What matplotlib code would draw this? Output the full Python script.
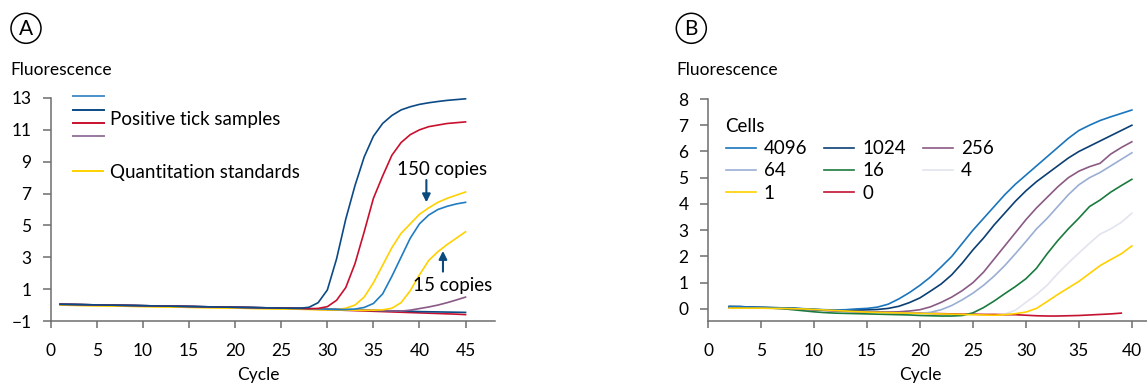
import numpy as np
import matplotlib.pyplot as plt
from matplotlib.lines import Line2D
from matplotlib.patches import Ellipse

plt.rcParams['font.family'] = ['Lato', 'DejaVu Sans']
plt.rcParams['font.size'] = 12.5

# ---- panel A: tick samples + quantitation standards (cycles 1..45)
cycles_a = np.arange(1, 46)

pos_navy = [0.05, 0.04, 0.03, 0.02, 0.01, 0.0, -0.01, -0.02, -0.03, -0.04,
            -0.05, -0.06, -0.07, -0.08, -0.09, -0.10, -0.11, -0.12, -0.13, -0.14,
            -0.15, -0.16, -0.17, -0.18, -0.19, -0.20, -0.20, -0.14, 0.15, 0.95,
            2.90, 5.40, 7.50, 9.30, 10.60, 11.40, 11.90, 12.25, 12.45, 12.60,
            12.70, 12.78, 12.85, 12.90, 12.95]
pos_red = [0.05, 0.04, 0.03, 0.02, 0.01, 0.0, -0.01, -0.02, -0.03, -0.04,
           -0.05, -0.06, -0.07, -0.08, -0.09, -0.10, -0.11, -0.12, -0.13, -0.14,
           -0.15, -0.16, -0.17, -0.18, -0.19, -0.20, -0.21, -0.23, -0.21, -0.10,
           0.30, 1.10, 2.60, 4.60, 6.70, 8.10, 9.40, 10.20, 10.70, 11.00,
           11.20, 11.30, 11.40, 11.45, 11.50]
pos_blue = [0.05, 0.04, 0.03, 0.02, 0.01, 0.0, -0.01, -0.02, -0.03, -0.04,
            -0.05, -0.06, -0.07, -0.08, -0.09, -0.10, -0.11, -0.12, -0.13, -0.14,
            -0.15, -0.16, -0.17, -0.18, -0.19, -0.20, -0.21, -0.23, -0.24, -0.26,
            -0.27, -0.28, -0.25, -0.15, 0.10, 0.70, 1.80, 3.00, 4.20, 5.10,
            5.65, 6.00, 6.20, 6.35, 6.45]
pos_purple = [0.05, 0.04, 0.03, 0.02, 0.01, 0.0, -0.01, -0.02, -0.03, -0.04,
              -0.05, -0.06, -0.07, -0.08, -0.09, -0.10, -0.11, -0.12, -0.13, -0.14,
              -0.15, -0.16, -0.17, -0.18, -0.19, -0.20, -0.21, -0.23, -0.24, -0.26,
              -0.27, -0.29, -0.30, -0.32, -0.33, -0.35, -0.37, -0.38, -0.32, -0.22,
              -0.12, 0.00, 0.15, 0.32, 0.50]
neg_navy = [0.05, 0.04, 0.03, 0.02, 0.01, 0.0, -0.01, -0.02, -0.03, -0.04,
            -0.05, -0.06, -0.07, -0.08, -0.09, -0.10, -0.11, -0.12, -0.13, -0.14,
            -0.15, -0.16, -0.17, -0.18, -0.19, -0.20, -0.21, -0.23, -0.24, -0.26,
            -0.27, -0.29, -0.30, -0.32, -0.33, -0.35, -0.36, -0.38, -0.39, -0.41,
            -0.42, -0.43, -0.44, -0.45, -0.46]
neg_red = [0.04, 0.03, 0.02, 0.01, 0.0, -0.01, -0.02, -0.03, -0.04, -0.05,
           -0.06, -0.07, -0.08, -0.09, -0.10, -0.11, -0.12, -0.13, -0.14, -0.15,
           -0.16, -0.17, -0.18, -0.19, -0.20, -0.21, -0.23, -0.25, -0.27, -0.29,
           -0.31, -0.33, -0.35, -0.37, -0.39, -0.41, -0.43, -0.45, -0.47, -0.49,
           -0.51, -0.53, -0.55, -0.57, -0.60]
std_150 = [0.0, -0.01, -0.02, -0.03, -0.04, -0.05, -0.06, -0.07, -0.08, -0.09,
           -0.10, -0.11, -0.12, -0.13, -0.14, -0.15, -0.16, -0.17, -0.18, -0.19,
           -0.20, -0.21, -0.22, -0.23, -0.24, -0.25, -0.26, -0.27, -0.28, -0.29,
           -0.28, -0.20, 0.00, 0.50, 1.40, 2.50, 3.60, 4.50, 5.10, 5.70,
           6.10, 6.45, 6.70, 6.90, 7.10]
std_15 = [0.0, -0.01, -0.02, -0.03, -0.04, -0.05, -0.06, -0.07, -0.08, -0.09,
          -0.10, -0.11, -0.12, -0.13, -0.14, -0.15, -0.16, -0.17, -0.18, -0.19,
          -0.20, -0.21, -0.22, -0.23, -0.24, -0.25, -0.26, -0.27, -0.28, -0.29,
          -0.30, -0.31, -0.32, -0.33, -0.32, -0.30, -0.20, 0.15, 0.90, 1.90,
          2.80, 3.35, 3.80, 4.20, 4.60]

# ---- panel B: cell dilutions (cycles 2..40)
cycles_b = np.arange(2, 41)
cell_labels = ['4096', '1024', '256', '64', '16', '4', '1', '0']

c4096 = [0.08, 0.09, 0.07, 0.06, 0.05, 0.04, 0.03, 0.01, -0.01, -0.03,
         -0.04, -0.03, 0.00, 0.02, 0.07, 0.18, 0.38, 0.62, 0.90, 1.22,
         1.60, 2.00, 2.50, 3.00, 3.45, 3.90, 4.35, 4.75, 5.10, 5.45,
         5.80, 6.15, 6.50, 6.80, 7.00, 7.18, 7.32, 7.45, 7.58]
c1024 = [0.10, 0.09, 0.07, 0.06, 0.05, 0.04, 0.03, 0.00, -0.02, -0.04,
         -0.05, -0.05, -0.04, -0.03, -0.02, 0.02, 0.10, 0.24, 0.42, 0.68,
         0.95, 1.30, 1.75, 2.25, 2.70, 3.20, 3.65, 4.10, 4.50, 4.85,
         5.15, 5.45, 5.75, 6.00, 6.20, 6.40, 6.60, 6.80, 7.00]
c256 = [0.07, 0.07, 0.06, 0.05, 0.04, 0.03, 0.01, -0.01, -0.03, -0.05,
        -0.07, -0.08, -0.09, -0.10, -0.11, -0.12, -0.11, -0.08, -0.03, 0.08,
        0.25, 0.45, 0.70, 1.00, 1.40, 1.90, 2.40, 2.90, 3.40, 3.85,
        4.25, 4.65, 5.00, 5.25, 5.42, 5.55, 5.90, 6.15, 6.37]
c64 = [0.07, 0.07, 0.06, 0.05, 0.04, 0.03, 0.01, -0.01, -0.03, -0.05,
       -0.07, -0.08, -0.10, -0.11, -0.12, -0.13, -0.14, -0.15, -0.17, -0.13,
       -0.03, 0.13, 0.35, 0.60, 0.90, 1.25, 1.65, 2.10, 2.57, 3.05,
       3.45, 3.90, 4.35, 4.73, 5.00, 5.20, 5.45, 5.70, 5.95]
c16 = [0.06, 0.06, 0.05, 0.04, 0.03, 0.01, -0.03, -0.07, -0.11, -0.14,
       -0.16, -0.17, -0.18, -0.19, -0.20, -0.21, -0.22, -0.23, -0.25, -0.26,
       -0.27, -0.27, -0.25, -0.15, 0.05, 0.30, 0.58, 0.85, 1.15, 1.55,
       2.10, 2.60, 3.05, 3.46, 3.90, 4.15, 4.45, 4.70, 4.94]
c4 = [0.06, 0.06, 0.05, 0.04, 0.03, 0.02, 0.00, -0.02, -0.04, -0.06,
      -0.08, -0.10, -0.11, -0.12, -0.13, -0.14, -0.15, -0.16, -0.17, -0.18,
      -0.19, -0.20, -0.21, -0.21, -0.22, -0.22, -0.20, -0.05, 0.25, 0.55,
      0.90, 1.35, 1.75, 2.13, 2.50, 2.85, 3.05, 3.30, 3.65]
c1 = [0.03, 0.03, 0.03, 0.03, 0.02, 0.02, 0.01, 0.00, -0.02, -0.04,
      -0.06, -0.08, -0.10, -0.12, -0.13, -0.14, -0.15, -0.16, -0.17, -0.18,
      -0.19, -0.20, -0.21, -0.22, -0.23, -0.24, -0.22, -0.18, -0.12, 0.02,
      0.28, 0.55, 0.80, 1.05, 1.35, 1.65, 1.88, 2.10, 2.40]
c0 = [0.05, 0.05, 0.04, 0.04, 0.03, 0.02, 0.01, -0.01, -0.03, -0.05,
      -0.07, -0.09, -0.10, -0.11, -0.12, -0.13, -0.14, -0.15, -0.16, -0.17,
      -0.18, -0.19, -0.20, -0.20, -0.21, -0.21, -0.22, -0.22, -0.24, -0.26,
      -0.27, -0.27, -0.26, -0.25, -0.23, -0.21, -0.19, -0.16]

navy = '#0c4a85'
blue = '#1f7cc1'
red = '#c8102e'
purple = '#8a5a87'
yellow = '#ffd100'
axis_gray = '#6e6e6e'

fig = plt.figure(figsize=(11.47, 3.84), dpi=100)
ax_a = fig.add_axes([51 / 1147, 63 / 384, 444 / 1147, 223 / 384])
ax_b = fig.add_axes([708 / 1147, 63 / 384, 438.7 / 1147, 222 / 384])


def style_axes(ax):
    for s in ['top', 'right']:
        ax.spines[s].set_visible(False)
    for s in ['left', 'bottom']:
        ax.spines[s].set_color(axis_gray)
        ax.spines[s].set_linewidth(1.1)
    ax.tick_params(axis='both', colors=axis_gray, labelcolor='black',
                   width=1.1, labelsize=12.5)
    ax.tick_params(axis='x', length=5, pad=11)
    ax.tick_params(axis='y', length=6, pad=8)
    ax.patch.set_alpha(0)


lw = 1.2
ax_a.plot(cycles_a, neg_red, color=red, lw=lw)
ax_a.plot(cycles_a, neg_navy, color=navy, lw=lw)
ax_a.plot(cycles_a, pos_purple, color=purple, lw=lw)
ax_a.plot(cycles_a, std_15, color=yellow, lw=lw)
ax_a.plot(cycles_a, std_150, color=yellow, lw=lw)
ax_a.plot(cycles_a, pos_blue, color=blue, lw=lw)
ax_a.plot(cycles_a, pos_red, color=red, lw=lw)
ax_a.plot(cycles_a, pos_navy, color=navy, lw=lw)

ax_a.set_xlim(0, 48.2)
ax_a.set_ylim(-1, 13)
ax_a.set_xticks(range(0, 46, 5))
ax_a.set_yticks(range(-1, 14, 2))
ax_a.set_yticklabels(['\u22121'] + [str(v) for v in range(1, 14, 2)])
style_axes(ax_a)

# legend A: four sample keys, one shared label
keys = [Line2D([], [], color=c, lw=1.4)
        for c in ['#4a90c8', navy, red, '#9a78a0']]
leg1 = ax_a.legend(keys, ['', '', '', ''], loc='upper left', frameon=False,
                   bbox_to_anchor=(0.0495, 1.03), borderaxespad=0, borderpad=0,
                   fontsize=8, labelspacing=0.2, handlelength=2.75,
                   handletextpad=0)
ax_a.add_artist(leg1)
ax_a.text(0.133, 0.903, 'Positive tick samples', transform=ax_a.transAxes,
          ha='left', va='center', fontsize=13.5)
ax_a.legend([Line2D([], [], color=yellow, lw=1.4)], ['Quantitation standards'],
            loc='upper left', frameon=False, bbox_to_anchor=(0.0495, 0.705),
            borderaxespad=0, borderpad=0, fontsize=13.5, handlelength=1.6,
            handletextpad=0.37)

arrow = dict(arrowstyle='-|>', color='#0b4a7d', lw=1.5, mutation_scale=12,
             shrinkA=0, shrinkB=0)
ax_a.annotate('', xy=(40.75, 6.45), xytext=(40.75, 7.85), arrowprops=arrow)
ax_a.text(42.4, 8.48, '150 copies', ha='center', va='center', fontsize=13.5)
ax_a.annotate('', xy=(42.55, 3.4), xytext=(42.55, 2.1), arrowprops=arrow)
ax_a.text(43.6, 1.26, '15 copies', ha='center', va='center', fontsize=13.5)
ax_a.text(22.5, -0.242, 'Cycle', transform=ax_a.get_xaxis_transform(),
          ha='center', va='center', fontsize=12.5)

# ---- panel B
series_b = [c4096, c1024, c256, c64, c16, c4, c1, c0]
colors_b = ['#1a75bc', '#0b3f73', '#8a5a85', '#9aaed4', '#1b7a3e', '#e2e4ee',
            '#ffd100', '#c41230']
handles = {}
draw_order = [5, 7, 3, 4, 2, 1, 0, 6]
for i in draw_order:
    x = cycles_b[:len(series_b[i])]
    ln, = ax_b.plot(x, series_b[i], color=colors_b[i], lw=lw)
    handles[cell_labels[i]] = ln

ax_b.set_xlim(0, 41.4)
ax_b.set_ylim(-0.46, 8)
ax_b.set_xticks(range(0, 41, 5))
ax_b.set_yticks(range(0, 9))
style_axes(ax_b)

order = ['4096', '64', '1', '1024', '16', '0', '256', '4']
ax_b.legend([handles[k] for k in order], order, ncol=3, title='Cells',
            alignment='left', loc='upper left', frameon=False,
            bbox_to_anchor=(0.04, 0.915), borderaxespad=0, borderpad=0,
            fontsize=13.5, title_fontsize=13.5, handlelength=1.6,
            handletextpad=0.43, labelspacing=0.28, columnspacing=0.9)
ax_b.text(20, -0.243, 'Cycle', transform=ax_b.get_xaxis_transform(),
          ha='center', va='center', fontsize=12.5)

# figure-level labels
fig.text(10 / 1147, 1 - 70 / 384, 'Fluorescence', ha='left', va='center',
         fontsize=12.5)
fig.text(676.7 / 1147, 1 - 70 / 384, 'Fluorescence', ha='left', va='center',
         fontsize=12.5)
for cx, letter in [(26, 'A'), (691.3, 'B')]:
    fig.patches.append(Ellipse((cx / 1147, 1 - 28.3 / 384), 30 / 1147, 30 / 384,
                               transform=fig.transFigure, fill=False,
                               edgecolor='black', lw=1.1))
    fig.text(cx / 1147, 1 - 28.8 / 384, letter, ha='center', va='center',
             fontsize=15)

fig.savefig('out.png', dpi=100)
